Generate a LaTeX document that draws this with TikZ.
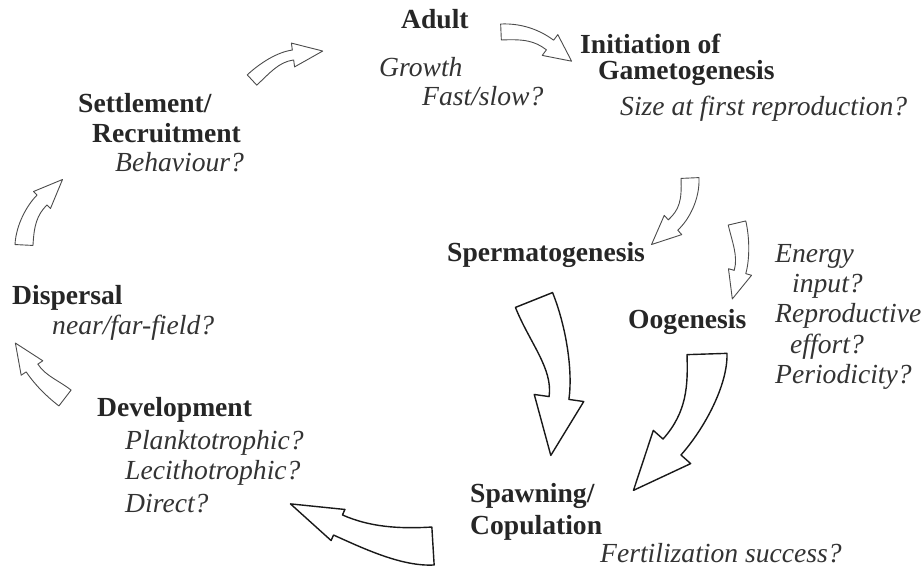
\documentclass[tikz,border=0pt]{standalone}
\usepackage{fontspec}
\setmainfont{Liberation Serif}
\usetikzlibrary{calc,positioning}
\newcommand{\cyclefont}{\fontsize{27.6}{30}\selectfont}
% hollow curved arrow: name, tail, ctrl1, ctrl2, head base, tail half width, neck half width, head half width, head length
\newcommand{\flowarrow}[9]{%
    \coordinate (#1-a) at #2;%
    \coordinate (#1-b) at #3;%
    \coordinate (#1-c) at #4;%
    \coordinate (#1-d) at #5;%
    \coordinate (#1-tip) at ($(#1-d)!#9!180:(#1-c)$);%
    \draw[flow] ($(#1-a)!#6!90:(#1-b)$) .. controls ($(#1-b)!#6!-90:(#1-a)$) and ($(#1-c)!#7!90:(#1-d)$) .. ($(#1-d)!#7!-90:(#1-c)$)
        -- ($(#1-d)!#8!-90:(#1-c)$) -- (#1-tip) -- ($(#1-d)!#8!90:(#1-c)$)
        -- ($(#1-d)!#7!90:(#1-c)$) .. controls ($(#1-c)!#7!-90:(#1-d)$) and ($(#1-b)!#6!90:(#1-a)$) .. ($(#1-a)!#6!-90:(#1-b)$) -- cycle;%
}

\begin{document}
\begin{tikzpicture}[
        x=1pt,
        y=-1pt,
        title/.style={font=\cyclefont\bfseries, anchor=base west, inner sep=0pt, text=black!85},
        quest/.style={font=\cyclefont\itshape, anchor=base west, inner sep=0pt, text=black!80},
        flow/.style={draw=gray!60!black, line width=0.9pt, fill=white, line join=round}
    ]
        \useasboundingbox (0,0) rectangle (922,569);

        \node[title] (adult) at (401,29) {Adult};
        \node[quest] (growth) at (379,77) {Growth};
        \node[quest] (fastslow) at (422,106) {Fast/slow?};
        \node[title] (init) at (580,54) {Initiation of};
        \node[title] (gameto) at (598,80) {Gametogenesis};
        \node[quest] (sizefirst) at (620,116) {Size at first reproduction?};
        \node[title] (settle) at (78,113) {Settlement/};
        \node[title] (recruit) at (92,143) {Recruitment};
        \node[quest] (behav) at (115,172) {Behaviour?};
        \node[title] (sperm) at (447,262) {Spermatogenesis};
        \node[quest] (energy) at (775,263) {Energy};
        \node[quest] (input) at (792,293) {input?};
        \node[quest] (reprod) at (775,323) {Reproductive};
        \node[quest] (effort) at (790,354) {effort?};
        \node[quest] (period) at (775,384) {Periodicity?};
        \node[title] (oogen) at (628,329) {Oogenesis};
        \node[title] (dispersal) at (12,305) {Dispersal};
        \node[quest] (nearfar) at (52,335) {near/far-field?};
        \node[title] (develop) at (97,417) {Development};
        \node[quest] (plankto) at (125,450) {Planktotrophic?};
        \node[quest] (lecitho) at (125,480) {Lecithotrophic?};
        \node[quest] (direct) at (125,512) {Direct?};
        \node[title] (spawn) at (470,503) {Spawning/};
        \node[title] (copul) at (470,534) {Copulation};
        \node[quest] (fertil) at (600,562) {Fertilization success?};

        \flowarrow{setad}{(252,80)}{(265,68)}{(278,57)}{(293,55)}{7pt}{5pt}{12pt}{30pt}
        \flowarrow{adin}{(501,32)}{(524,31)}{(538,36)}{(550,45)}{8pt}{6pt}{13pt}{27pt}
        \flowarrow{gamsp}{(690,178)}{(691,200)}{(684,215)}{(673,225)}{9pt}{7pt}{13pt}{29pt}
        \flowarrow{gamoo}{(737,223)}{(741,240)}{(744,258)}{(740,272)}{9pt}{6pt}{12pt}{28pt}
        \flowarrow{devdis}{(65,398)}{(52,388)}{(40,380)}{(32,368)}{10pt}{7pt}{13pt}{30pt}
        \flowarrow{disset}{(24,245)}{(25,225)}{(32,210)}{(42,200)}{9pt}{7pt}{12pt}{29pt}

        \begin{scope}[flow/.style={draw=black!90, line width=1.4pt, fill=white, line join=round}]
            \flowarrow{spsp}{(534,300)}{(548,335)}{(563,370)}{(559,398)}{20pt}{10pt}{25pt}{58pt}
            \flowarrow{oosp}{(707,354)}{(708,385)}{(696,420)}{(672,447)}{20pt}{12pt}{25pt}{58pt}
            \flowarrow{spdev}{(433,546)}{(400,548)}{(365,537)}{(338,525)}{19pt}{11pt}{17pt}{52pt}
        \end{scope}
    \end{tikzpicture}
\end{document}
